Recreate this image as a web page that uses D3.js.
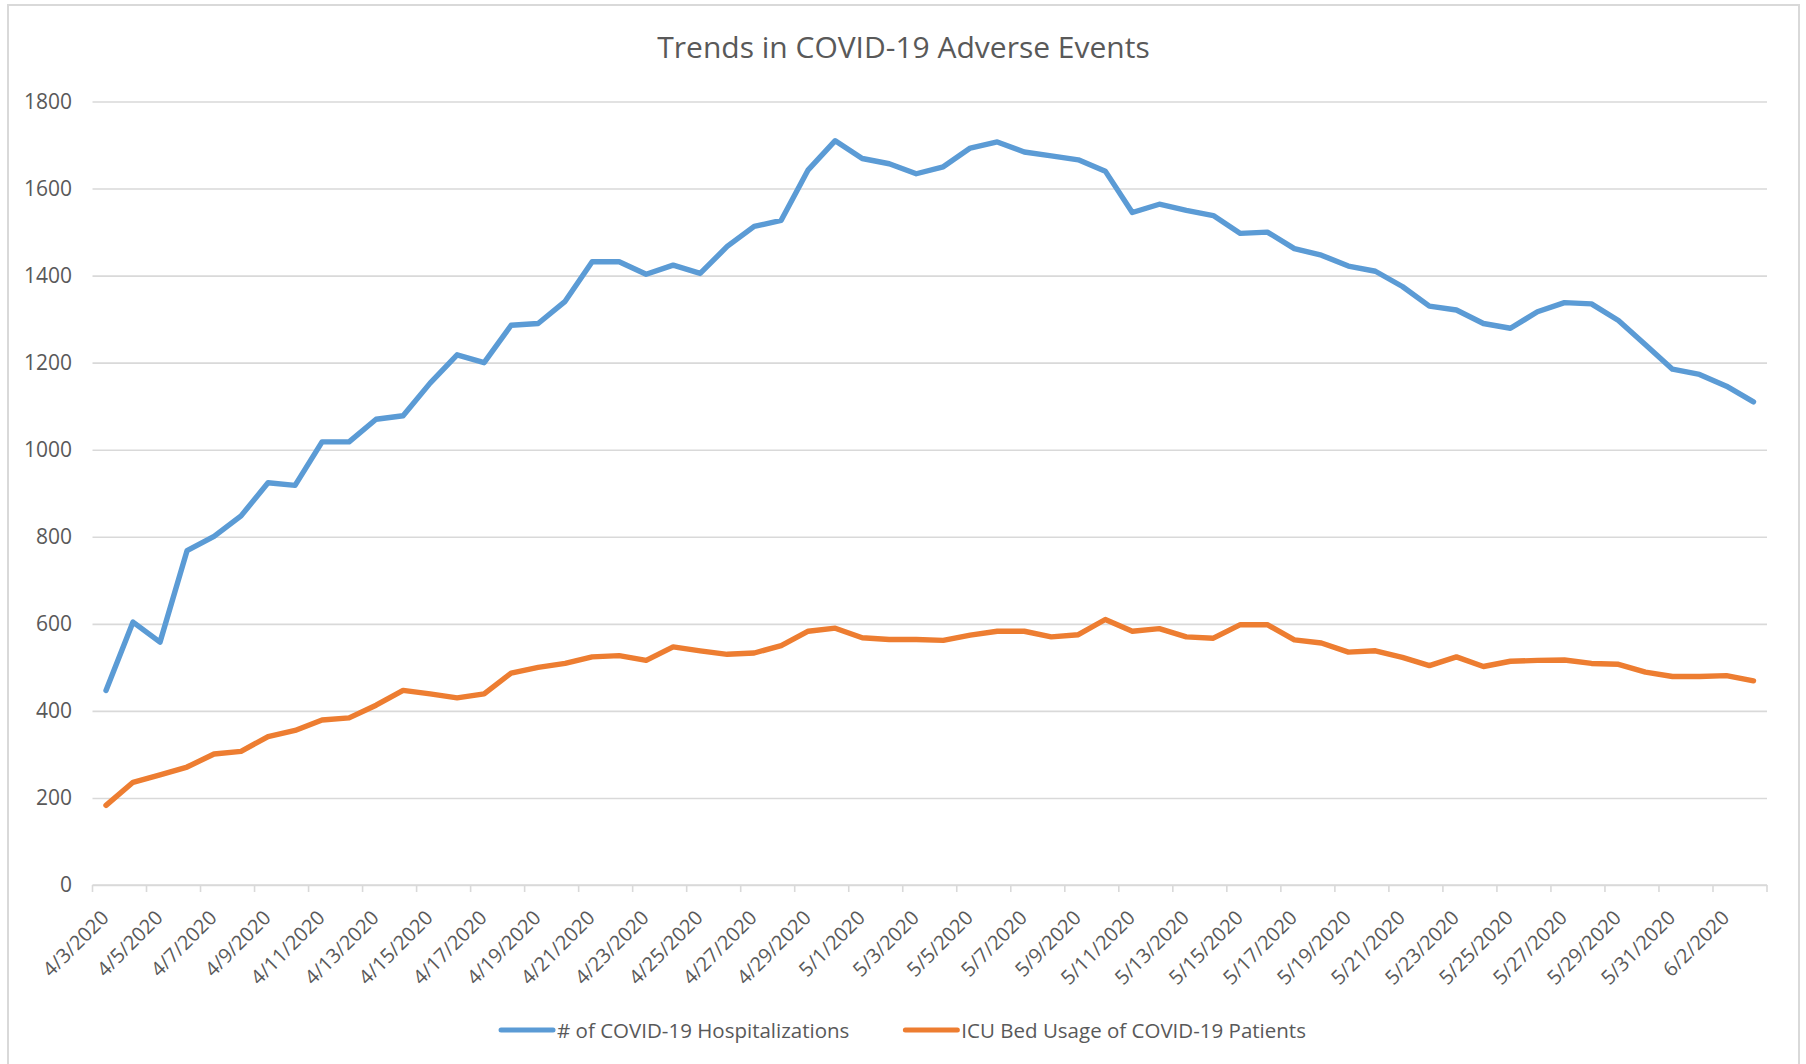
<!DOCTYPE html>
<html>
<head>
<meta charset="utf-8">
<script src="https://cdn.jsdelivr.net/npm/d3@7"></script>
<style>
  body { margin: 0; background: #fff; }
  svg { display: block; }
  text { font-family: "Open Sans", "Noto Sans", sans-serif; fill: #595959; }
</style>
</head>
<body>
<div id="chart"></div>
<script>
// category labels (one per day)
var dates = [
  "4/3/2020","4/4/2020","4/5/2020","4/6/2020","4/7/2020","4/8/2020","4/9/2020","4/10/2020",
  "4/11/2020","4/12/2020","4/13/2020","4/14/2020","4/15/2020","4/16/2020","4/17/2020","4/18/2020",
  "4/19/2020","4/20/2020","4/21/2020","4/22/2020","4/23/2020","4/24/2020","4/25/2020","4/26/2020",
  "4/27/2020","4/28/2020","4/29/2020","4/30/2020","5/1/2020","5/2/2020","5/3/2020","5/4/2020",
  "5/5/2020","5/6/2020","5/7/2020","5/8/2020","5/9/2020","5/10/2020","5/11/2020","5/12/2020",
  "5/13/2020","5/14/2020","5/15/2020","5/16/2020","5/17/2020","5/18/2020","5/19/2020","5/20/2020",
  "5/21/2020","5/22/2020","5/23/2020","5/24/2020","5/25/2020","5/26/2020","5/27/2020","5/28/2020",
  "5/29/2020","5/30/2020","5/31/2020","6/1/2020","6/2/2020","6/3/2020"
];

var hospitalizations = [
  447, 604, 558, 768, 801, 848, 924, 918, 1018, 1018, 1070, 1078, 1153, 1218, 1200, 1286,
  1290, 1341, 1432, 1432, 1403, 1424, 1405, 1467, 1513, 1527, 1643, 1710, 1669, 1657, 1634, 1650,
  1693, 1707, 1684, 1675, 1666, 1640, 1545, 1564, 1550, 1538, 1497, 1500, 1462, 1447, 1422, 1410,
  1375, 1330, 1321, 1290, 1279, 1317, 1338, 1335, 1297, 1241, 1185, 1173, 1146, 1110
];

var icuBeds = [
  183, 236, 253, 271, 301, 307, 341, 355, 379, 384, 413, 447, 439, 430, 439, 487,
  500, 509, 524, 527, 516, 547, 538, 530, 533, 550, 583, 590, 568, 564, 564, 562,
  574, 583, 583, 570, 575, 610, 583, 589, 570, 567, 598, 598, 563, 556, 535, 538,
  523, 504, 524, 502, 514, 516, 517, 509, 507, 489, 479, 479, 481, 469
];

var yTicks = [0, 200, 400, 600, 800, 1000, 1200, 1400, 1600, 1800];

var seriesNames = ["# of COVID-19 Hospitalizations", "ICU Bed Usage of COVID-19 Patients"];
var seriesColors = ["#5B9BD5", "#ED7D31"];

var W = 1806, H = 1064;
var plot = { left: 92.5, right: 1767, top: 101.5, bottom: 885 };

var svg = d3.select("#chart").append("svg")
    .attr("width", W)
    .attr("height", H);

// outer chart border
svg.append("rect")
    .attr("x", 8).attr("y", 5)
    .attr("width", 1791).attr("height", 1080)
    .attr("fill", "#fff")
    .attr("stroke", "#d9d9d9")
    .attr("stroke-width", 2);

var x = d3.scaleBand()
    .domain(dates)
    .range([plot.left, plot.right])
    .padding(0);

var y = d3.scaleLinear()
    .domain([0, 1800])
    .range([plot.bottom, plot.top]);

function cx(d) { return x(d) + x.bandwidth() / 2; }

// title
svg.append("text")
    .attr("x", 903.5)
    .attr("y", 58)
    .attr("text-anchor", "middle")
    .style("font-size", "30px")
    .text("Trends in COVID-19 Adverse Events");

// horizontal gridlines + y labels
var yAxis = d3.axisLeft(y)
    .tickValues(yTicks)
    .tickFormat(d3.format("d"))
    .tickSize(-(plot.right - plot.left))
    .tickPadding(20.5);

svg.append("g")
    .attr("transform", "translate(" + plot.left + ",0)")
    .call(yAxis)
    .call(g => g.select(".domain").remove())
    .call(g => g.selectAll(".tick line")
        .attr("stroke", "#d9d9d9")
        .attr("stroke-width", 1.6))
    .call(g => g.selectAll(".tick text")
        .attr("fill", "#595959")
        .style("font-size", "21px"));

// category axis: ticks between every second category
var tickIdx = dates.map((d, i) => i).filter(i => i % 2 === 0);
var xg = svg.append("g");

xg.append("line")
    .attr("x1", plot.left).attr("x2", plot.right)
    .attr("y1", plot.bottom).attr("y2", plot.bottom)
    .attr("stroke", "#d9d9d9")
    .attr("stroke-width", 1.6);

xg.selectAll(".xtick")
    .data(tickIdx.map(i => x(dates[i])).concat([plot.right]))
    .enter().append("line")
    .attr("class", "xtick")
    .attr("x1", d => d).attr("x2", d => d)
    .attr("y1", plot.bottom).attr("y2", plot.bottom + 7)
    .attr("stroke", "#d9d9d9")
    .attr("stroke-width", 1.6);

xg.selectAll(".xlabel")
    .data(tickIdx.map(i => dates[i]))
    .enter().append("text")
    .attr("class", "xlabel")
    .attr("text-anchor", "end")
    .attr("transform", d => "translate(" + (cx(d) + 4) + "," + (plot.bottom + 34) + ") rotate(-45)")
    .style("font-size", "20px")
    .text(d => d);

// lines
var line = d3.line()
    .x((v, i) => cx(dates[i]))
    .y(v => y(v));

[hospitalizations, icuBeds].forEach(function(values, k) {
    svg.append("path")
        .datum(values)
        .attr("fill", "none")
        .attr("stroke", seriesColors[k])
        .attr("stroke-width", 5.4)
        .attr("stroke-linejoin", "round")
        .attr("stroke-linecap", "round")
        .attr("d", line);
});

// legend, centred below the axis
var legend = svg.append("g");
var items = legend.selectAll(".item")
    .data(seriesNames)
    .enter().append("g")
    .attr("class", "item");

items.append("line")
    .attr("x1", 0).attr("x2", 52)
    .attr("y1", 0).attr("y2", 0)
    .attr("stroke", (d, i) => seriesColors[i])
    .attr("stroke-width", 5)
    .attr("stroke-linecap", "round");

items.append("text")
    .attr("x", 56)
    .attr("y", 7.5)
    .style("font-size", "20.5px")
    .text(d => d);

var offset = 0, widths = [];
items.each(function() {
    var w = 56 + this.querySelector("text").getComputedTextLength();
    widths.push(w);
});
var gap = 56;
var total = d3.sum(widths) + gap * (widths.length - 1);
var startX = 903.5 - total / 2;
items.attr("transform", function(d, i) {
    var tx = startX + offset;
    offset += widths[i] + gap;
    return "translate(" + tx + ",1030)";
});
</script>
</body>
</html>
